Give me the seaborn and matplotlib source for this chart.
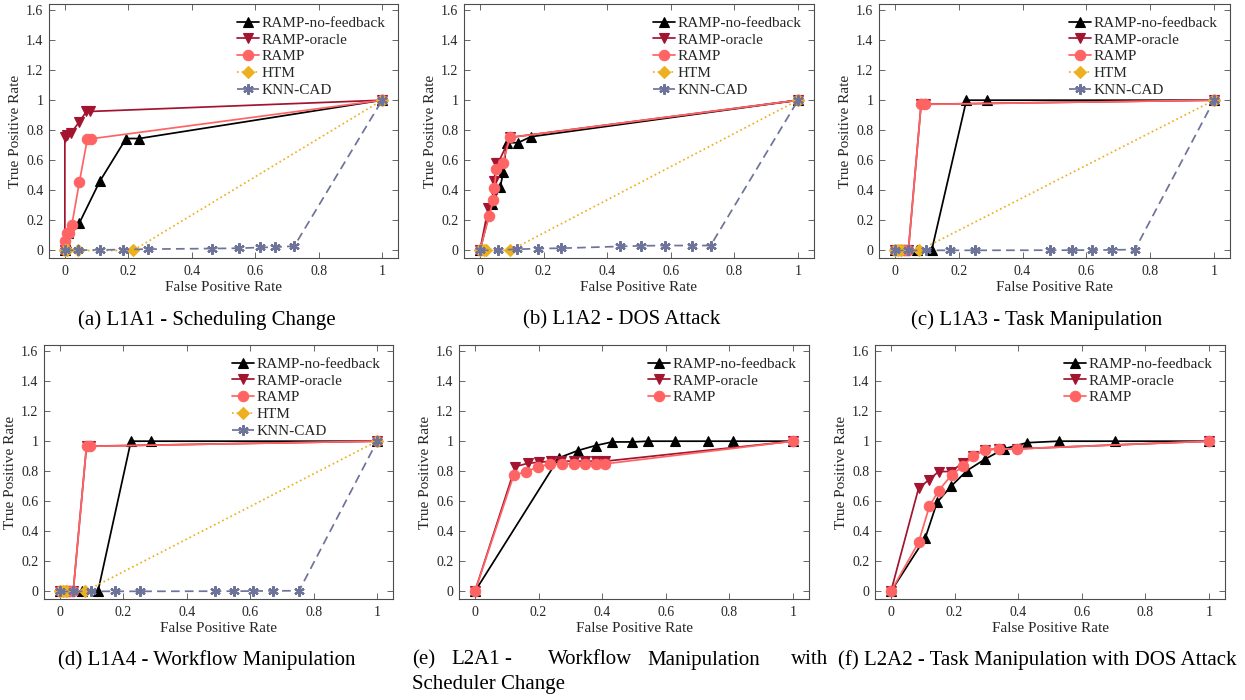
import seaborn as sns
import matplotlib.pyplot as plt

# ---- data (FPR, TPR) ----
# (a) L1A1
a_nofb_fpr = [0, 0.003, 0.01, 0.045, 0.11, 0.193, 0.234, 1]
a_nofb_tpr = [0, 0.05, 0.115, 0.18, 0.46, 0.745, 0.745, 1]
a_orac_fpr = [0, 0, 0.006, 0.019, 0.045, 0.068, 0.08, 1]
a_orac_tpr = [0, 0.757, 0.77, 0.78, 0.855, 0.925, 0.925, 1]
a_ramp_fpr = [0, 0, 0.006, 0.0125, 0.022, 0.046, 0.071, 0.082, 1]
a_ramp_tpr = [0, 0.06, 0.115, 0.115, 0.17, 0.458, 0.743, 0.743, 1]
a_htm_fpr = [0, 0.008, 0.042, 0.215, 1]
a_htm_tpr = [0, 0, 0, 0, 1]
a_knn_fpr = [0, 0.042, 0.11, 0.184, 0.262, 0.465, 0.55, 0.614, 0.661, 0.723, 1]
a_knn_tpr = [0, 0.002, 0.004, 0.006, 0.009, 0.013, 0.015, 0.02, 0.022, 0.029, 1]

# (b) L1A2
b_nofb_fpr = [0, 0.037, 0.064, 0.073, 0.084, 0.12, 0.16, 1]
b_nofb_tpr = [0, 0.31, 0.42, 0.52, 0.717, 0.717, 0.757, 1]
b_orac_fpr = [0, 0.026, 0.043, 0.045, 0.05, 0.058, 0.095, 1]
b_orac_tpr = [0, 0.28, 0.38, 0.46, 0.58, 0.585, 0.752, 1]
b_ramp_fpr = [0, 0.029, 0.042, 0.045, 0.052, 0.071, 0.095, 1]
b_ramp_tpr = [0, 0.23, 0.335, 0.415, 0.54, 0.58, 0.752, 1]
b_htm_fpr = [0, 0.014, 0.02, 0.095, 1]
b_htm_tpr = [0, 0, 0, 0, 1]
b_knn_fpr = [0, 0.056, 0.118, 0.184, 0.255, 0.44, 0.505, 0.583, 0.666, 0.725, 1]
b_knn_tpr = [0, 0.003, 0.008, 0.013, 0.015, 0.027, 0.031, 0.033, 0.033, 0.033, 1]

# (c) L1A3
c_nofb_fpr = [0, 0.03, 0.07, 0.115, 0.224, 0.287, 1]
c_nofb_tpr = [0, 0, 0, 0, 1, 1, 1]
c_orac_fpr = [0, 0.02, 0.03, 0.042, 0.082, 0.094, 1]
c_orac_tpr = [0, 0, 0, 0, 0.973, 0.973, 1]
c_ramp_fpr = [0, 0.02, 0.03, 0.042, 0.082, 0.094, 1]
c_ramp_tpr = [0, 0, 0, 0, 0.972, 0.972, 1]
c_htm_fpr = [0, 0.01, 0.02, 0.076, 1]
c_htm_tpr = [0, 0, 0, 0, 1]
c_knn_fpr = [0, 0.042, 0.097, 0.173, 0.252, 0.487, 0.556, 0.617, 0.68, 0.752, 1]
c_knn_tpr = [0, 0, 0.001, 0.001, 0.001, 0.002, 0.002, 0.003, 0.004, 0.006, 1]

# (d) L1A4
d_nofb_fpr = [0, 0.03, 0.07, 0.12, 0.224, 0.288, 1]
d_nofb_tpr = [0, 0, 0, 0, 1, 1, 1]
d_orac_fpr = [0, 0.02, 0.03, 0.042, 0.084, 0.096, 1]
d_orac_tpr = [0, 0, 0, 0, 0.967, 0.967, 1]
d_ramp_fpr = [0, 0.02, 0.03, 0.042, 0.084, 0.096, 1]
d_ramp_tpr = [0, 0, 0, 0, 0.966, 0.966, 1]
d_htm_fpr = [0, 0.01, 0.02, 0.079, 1]
d_htm_tpr = [0, 0, 0, 0, 1]
d_knn_fpr = [0, 0.042, 0.099, 0.174, 0.254, 0.49, 0.55, 0.61, 0.671, 0.754, 1]
d_knn_tpr = [0, 0, 0.001, 0.001, 0.001, 0.002, 0.002, 0.003, 0.004, 0.005, 1]

# (e) L2A1
e_nofb_fpr = [0, 0.264, 0.324, 0.379, 0.431, 0.494, 0.544, 0.63, 0.731, 0.811, 1]
e_nofb_tpr = [0, 0.889, 0.938, 0.971, 0.995, 0.995, 1, 1, 1, 1, 1]
e_orac_fpr = [0, 0.127, 0.167, 0.201, 0.24, 0.272, 0.311, 0.347, 0.379, 0.41, 1]
e_orac_tpr = [0, 0.831, 0.853, 0.86, 0.867, 0.867, 0.867, 0.867, 0.867, 0.867, 1]
e_ramp_fpr = [0, 0.122, 0.161, 0.198, 0.235, 0.274, 0.31, 0.347, 0.379, 0.408, 1]
e_ramp_tpr = [0, 0.773, 0.798, 0.827, 0.849, 0.849, 0.849, 0.849, 0.849, 0.849, 1]

# (f) L2A2
f_nofb_fpr = [0, 0.108, 0.145, 0.189, 0.239, 0.297, 0.355, 0.428, 0.528, 0.703, 1]
f_nofb_tpr = [0, 0.356, 0.593, 0.7, 0.804, 0.882, 0.949, 0.99, 1, 1, 1]
f_orac_fpr = [0, 0.087, 0.119, 0.15, 0.189, 0.226, 0.259, 0.296, 0.339, 0.396, 1]
f_orac_tpr = [0, 0.687, 0.742, 0.798, 0.798, 0.856, 0.902, 0.942, 0.949, 0.949, 1]
f_ramp_fpr = [0, 0.087, 0.121, 0.15, 0.191, 0.226, 0.259, 0.296, 0.339, 0.396, 1]
f_ramp_tpr = [0, 0.327, 0.567, 0.671, 0.776, 0.833, 0.902, 0.942, 0.949, 0.949, 1]

captions = [
    "(a) L1A1 - Scheduling Change",
    "(b) L1A2 - DOS Attack",
    "(c) L1A3 - Task Manipulation",
    "(d) L1A4 - Workflow Manipulation",
    None,
    "(f) L2A2 - Task Manipulation with DOS Attack",
]

# method: (label, colour, marker, linestyle)
styles = {
    "nofb": ("RAMP-no-feedback", "#000000", "^", "-"),
    "orac": ("RAMP-oracle", "#A2142F", "v", "-"),
    "ramp": ("RAMP", "#FF6464", "o", "-"),
    "htm": ("HTM", "#EDB120", "D", ":"),
    "knn": ("KNN-CAD", "#6E7399", (6, 2, 0), (0, (5, 3))),
}

panels = [
    {"nofb": (a_nofb_fpr, a_nofb_tpr), "orac": (a_orac_fpr, a_orac_tpr), "ramp": (a_ramp_fpr, a_ramp_tpr),
     "htm": (a_htm_fpr, a_htm_tpr), "knn": (a_knn_fpr, a_knn_tpr)},
    {"nofb": (b_nofb_fpr, b_nofb_tpr), "orac": (b_orac_fpr, b_orac_tpr), "ramp": (b_ramp_fpr, b_ramp_tpr),
     "htm": (b_htm_fpr, b_htm_tpr), "knn": (b_knn_fpr, b_knn_tpr)},
    {"nofb": (c_nofb_fpr, c_nofb_tpr), "orac": (c_orac_fpr, c_orac_tpr), "ramp": (c_ramp_fpr, c_ramp_tpr),
     "htm": (c_htm_fpr, c_htm_tpr), "knn": (c_knn_fpr, c_knn_tpr)},
    {"nofb": (d_nofb_fpr, d_nofb_tpr), "orac": (d_orac_fpr, d_orac_tpr), "ramp": (d_ramp_fpr, d_ramp_tpr),
     "htm": (d_htm_fpr, d_htm_tpr), "knn": (d_knn_fpr, d_knn_tpr)},
    {"nofb": (e_nofb_fpr, e_nofb_tpr), "orac": (e_orac_fpr, e_orac_tpr), "ramp": (e_ramp_fpr, e_ramp_tpr)},
    {"nofb": (f_nofb_fpr, f_nofb_tpr), "orac": (f_orac_fpr, f_orac_tpr), "ramp": (f_ramp_fpr, f_ramp_tpr)},
]

# axes boxes in pixels: x0, x1, y0, y1 (top origin)
boxes = [
    (49, 398, 4, 258), (464, 814, 4, 258), (879, 1230, 4, 258),
    (44, 393, 345, 599), (459, 809, 345, 599), (875, 1225, 345, 599),
]

sns.set_style("ticks")
plt.rcParams["font.family"] = ["Liberation Serif", "DejaVu Serif"]

W, H = 1245, 700
fig = plt.figure(figsize=(W / 100, H / 100), dpi=100)
txt = "#262626"

for i, (panel, box) in enumerate(zip(panels, boxes)):
    x0, x1, y0, y1 = box
    ax = fig.add_axes([x0 / W, 1 - y1 / H, (x1 - x0) / W, (y1 - y0) / H])
    for key, (fpr, tpr) in panel.items():
        label, color, marker, ls = styles[key]
        ms = 7.5 if key != "htm" else 6.5
        sns.lineplot(x=fpr, y=tpr, ax=ax, sort=False, estimator=None, color=color,
                     marker=marker, markersize=ms, markeredgecolor=color,
                     markerfacecolor=color, markeredgewidth=1.6 if key == "knn" else 0.8,
                     linestyle=ls, linewidth=1.25, label=label)
    ax.set_xlim(-0.05, 1.05)
    ax.set_ylim(-0.05, 1.64)
    ax.set_xticks([0, 0.2, 0.4, 0.6, 0.8, 1])
    ax.set_xticklabels(["0", "0.2", "0.4", "0.6", "0.8", "1"])
    ax.set_yticks([0, 0.2, 0.4, 0.6, 0.8, 1, 1.2, 1.4, 1.6])
    ax.set_yticklabels(["0", "0.2", "0.4", "0.6", "0.8", "1", "1.2", "1.4", "1.6"])
    ax.tick_params(direction="in", top=True, right=True, length=4, width=0.6,
                   color="#4d4d4d", labelsize=10, labelcolor=txt)
    ax.tick_params(axis="x", pad=5)
    ax.tick_params(axis="y", pad=4)
    for sp in ax.spines.values():
        sp.set_color("#4d4d4d")
        sp.set_linewidth(0.8)
    ax.set_xlabel("False Positive Rate", fontsize=11, color=txt, labelpad=2)
    ax.set_ylabel("True Positive Rate", fontsize=11, color=txt, labelpad=3)
    ax.legend(loc="upper right", frameon=False, fontsize=11, handlelength=1.5,
              handletextpad=0.15, labelspacing=0.2, borderaxespad=0.4)

    cx = [207, 622, 1037][i % 3] / W
    cy = 1 - (320 if i < 3 else 660) / H
    if captions[i] is not None:
        fig.text(cx, cy, captions[i], ha="center", va="center", fontsize=15, color="black")

# caption (e) is justified over two lines in the source layout
e_words = [("(e)", 412), ("L2A1", 451), ("-", 504), ("Workflow", 548), ("Manipulation", 647), ("with", 791)]
for word, px in e_words:
    fig.text(px / W, 1 - 660 / H, word, ha="left", va="center", fontsize=15, color="black")
fig.text(412 / W, 1 - 684 / H, "Scheduler Change", ha="left", va="center", fontsize=15, color="black")

fig.savefig("out.png", dpi=100)
plt.close(fig)
